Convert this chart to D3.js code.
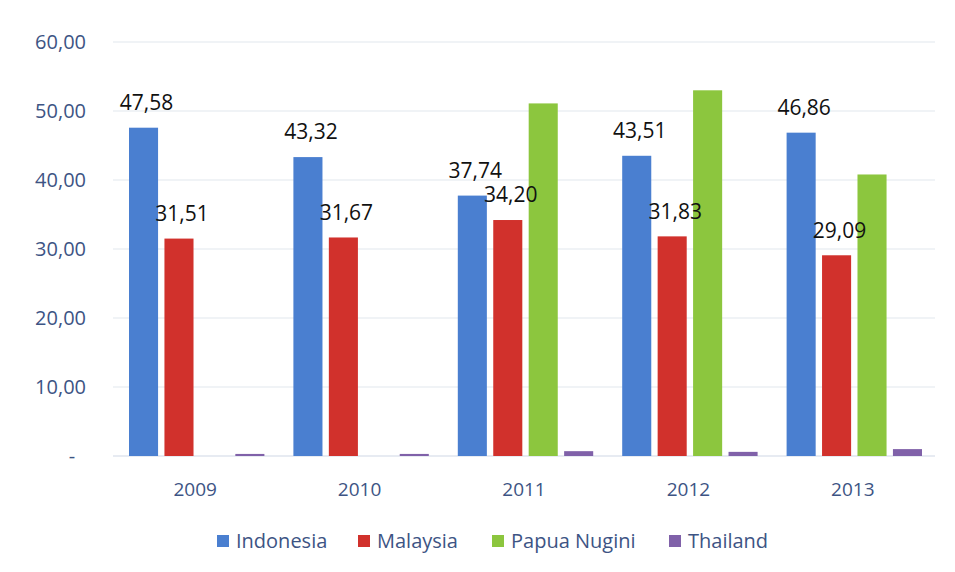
<!DOCTYPE html>
<html>
<head>
<meta charset="utf-8">
<script src="https://cdn.jsdelivr.net/npm/d3@7"></script>
<style>
  body { margin: 0; background: #fff; }
  svg { display: block; font-family: 'Open Sans', sans-serif; }
</style>
</head>
<body>
<div id="chart"></div>
<script>
// data
const years = ['2009', '2010', '2011', '2012', '2013'];
const seriesNames = ['Indonesia', 'Malaysia', 'Papua Nugini', 'Thailand'];
const indonesia = [47.58, 43.32, 37.74, 43.51, 46.86];
const malaysia = [31.51, 31.67, 34.20, 31.83, 29.09];
const papua = [0, 0, 51.1, 53.0, 40.8];
const thailand = [0.3, 0.3, 0.7, 0.6, 1.0];
const yTicks = [0, 10, 20, 30, 40, 50, 60];
const labelled = ['Indonesia', 'Malaysia'];

const colors = ['#4a7fd0', '#d1312c', '#8cc63e', '#8061a9'];

const width = 955, height = 572;
const margin = { top: 42, bottom: 116, left: 113, right: 20 };

const seriesValues = [indonesia, malaysia, papua, thailand];
const data = years.map((y, i) => ({
  year: y,
  values: seriesNames.map((s, j) => ({ name: s, value: seriesValues[j][i] }))
}));

const svg = d3.select('#chart').append('svg')
  .attr('width', width).attr('height', height);

const x0 = d3.scaleBand()
  .domain(years)
  .range([margin.left, width - margin.right]);

const x1 = d3.scaleBand()
  .domain(seriesNames)
  .range([16, x0.bandwidth() - 13])
  .paddingInner(0.18);

const y = d3.scaleLinear()
  .domain([0, 60])
  .range([height - margin.bottom, margin.top]);

const color = d3.scaleOrdinal().domain(seriesNames).range(colors);

// gridlines
svg.append('g')
  .selectAll('line')
  .data(yTicks)
  .join('line')
  .attr('x1', margin.left)
  .attr('x2', width - margin.right)
  .attr('y1', d => y(d))
  .attr('y2', d => y(d))
  .attr('stroke', d => d === 0 ? '#cfd8e6' : '#e2e7ee')
  .attr('stroke-width', 1.2);

// y labels
const fmt = d => d === 0 ? '-' : d3.format('.2f')(d).replace('.', ',');
svg.append('g')
  .selectAll('text')
  .data(yTicks)
  .join('text')
  .attr('x', d => d === 0 ? 72 : 86)
  .attr('y', d => y(d))
  .attr('dy', '0.35em')
  .attr('text-anchor', d => d === 0 ? 'middle' : 'end')
  .attr('fill', '#3d5484')
  .style('font-size', '20px')
  .text(fmt);

// x labels
svg.append('g')
  .selectAll('text')
  .data(years)
  .join('text')
  .attr('x', d => x0(d) + x0.bandwidth() / 2)
  .attr('y', 489)
  .attr('dy', '0.35em')
  .attr('text-anchor', 'middle')
  .attr('fill', '#3d5484')
  .style('font-size', '19px')
  .text(d => d);

// bars
const groups = svg.append('g')
  .selectAll('g')
  .data(data)
  .join('g')
  .attr('transform', d => `translate(${x0(d.year)},0)`);

groups.selectAll('rect')
  .data(d => d.values.filter(v => v.value > 0))
  .join('rect')
  .attr('x', d => x1(d.name))
  .attr('width', x1.bandwidth())
  .attr('y', d => y(d.value))
  .attr('height', d => y(0) - y(d.value))
  .attr('fill', d => color(d.name));

// value labels
groups.selectAll('text')
  .data(d => d.values.filter(v => labelled.includes(v.name)))
  .join('text')
  .attr('x', d => x1(d.name) + x1.bandwidth() / 2 + 3)
  .attr('y', d => y(d.value) - 25)
  .attr('dy', '0.35em')
  .attr('text-anchor', 'middle')
  .attr('fill', '#111')
  .style('font-size', '21px')
  .text(d => d3.format('.2f')(d.value).replace('.', ','));

// legend
const legendX = [217, 358, 492, 669];
const legend = svg.append('g')
  .selectAll('g')
  .data(seriesNames)
  .join('g')
  .attr('transform', (d, i) => `translate(${legendX[i]},541)`);

legend.append('rect')
  .attr('x', 0).attr('y', -6)
  .attr('width', 12).attr('height', 12)
  .attr('fill', d => color(d));

legend.append('text')
  .attr('x', 19)
  .attr('dy', '0.35em')
  .attr('fill', '#3d5484')
  .style('font-size', '20px')
  .text(d => d);
</script>
</body>
</html>
